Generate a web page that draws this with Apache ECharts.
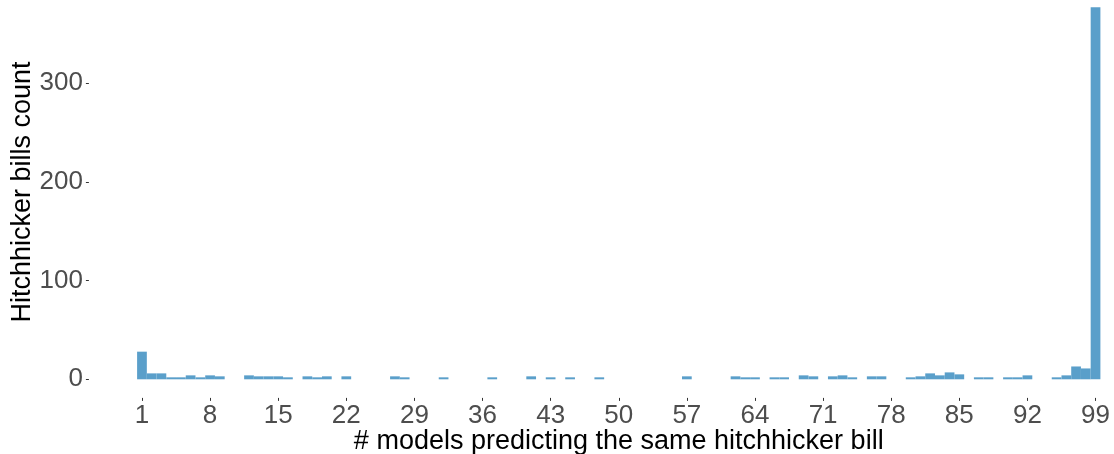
<!DOCTYPE html>
<html>
<head>
<meta charset="utf-8">
<script src="https://cdn.jsdelivr.net/npm/echarts@6/dist/echarts.min.js"></script>
<style>
html,body{margin:0;padding:0;background:#fff;}
#chart{width:1114px;height:454px;}
</style>
</head>
<body>
<div id="chart"></div>
<script>
// number of models predicting the same bill (1..99)
const categories = Array.from({length: 99}, (_, i) => String(i + 1));
// counts per category
const counts = [
  28, 6, 6, 2, 2, 4, 2, 4, 3, 0,
  0, 4, 3, 3, 3, 2, 0, 3, 2, 3,
  0, 3, 0, 0, 0, 0, 3, 2, 0, 0,
  0, 2, 0, 0, 0, 0, 2, 0, 0, 0,
  3, 0, 2, 0, 2, 0, 0, 2, 0, 0,
  0, 0, 0, 0, 0, 0, 3, 0, 0, 0,
  0, 3, 2, 2, 0, 2, 2, 0, 4, 3,
  0, 3, 4, 2, 0, 3, 3, 0, 0, 2,
  3, 6, 4, 7, 5, 0, 2, 2, 0, 2,
  2, 4, 0, 0, 2, 4, 13, 11, 377
];
const yTicks = [0, 100, 200, 300];
const xTitle = '# models predicting the same hitchhicker bill';
const yTitle = 'Hitchhicker bills count';

const chart = echarts.init(document.getElementById('chart'), null, {renderer: 'canvas'});
const font = 'Liberation Sans, Arial, sans-serif';
chart.setOption({
  animation: false,
  backgroundColor: '#ffffff',
  grid: {left: 137.1, right: 13.6, top: 4.35, bottom: 56.1, containLabel: false, outerBoundsMode: 'none'},
  xAxis: {
    type: 'category',
    data: categories,
    boundaryGap: true,
    axisLine: {show: false, onZero: false},
    axisTick: {
      show: true, length: 3, alignWithLabel: true,
      interval: (i) => i % 7 === 0,
      lineStyle: {color: '#333333', width: 1}
    },
    axisLabel: {
      interval: (i) => i % 7 === 0,
      color: '#4d4d4d', fontSize: 26, fontFamily: font, margin: 5
    },
    splitLine: {show: false},
    name: xTitle,
    nameLocation: 'middle',
    nameGap: 30,
    nameMoveOverlap: false,
    nameTextStyle: {color: '#000000', fontSize: 27, fontFamily: font}
  },
  yAxis: {
    type: 'value',
    min: -18.85,
    max: 380,
    offset: 48.2,
    axisLine: {show: false, onZero: false},
    axisTick: {show: true, length: 3, customValues: yTicks, lineStyle: {color: '#333333', width: 1}},
    axisLabel: {customValues: yTicks, color: '#4d4d4d', fontSize: 26, fontFamily: font, margin: 6},
    splitLine: {show: false}
  },
  graphic: [{
    type: 'text',
    x: 22.5, y: 192,
    rotation: Math.PI / 2,
    style: {
      text: yTitle, fill: '#000000', fontSize: 27, fontFamily: font,
      align: 'center', verticalAlign: 'middle'
    }
  }],
  series: [{
    type: 'bar',
    data: counts,
    barWidth: '100%',
    barCategoryGap: '0%',
    itemStyle: {color: '#5a9fca'}
  }]
});
</script>
</body>
</html>
